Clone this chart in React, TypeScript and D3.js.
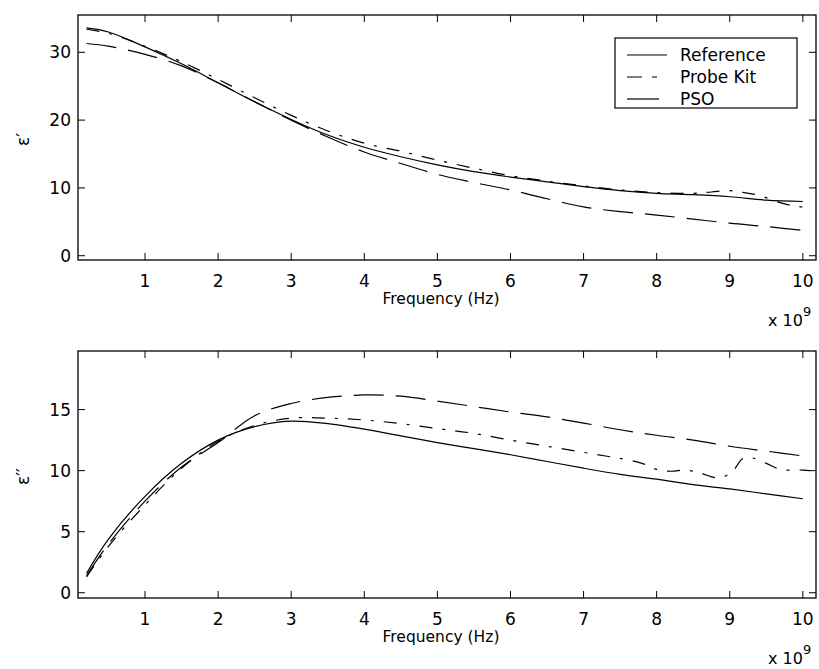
import React from "react";
import * as d3 from "d3";

// ---------- data (frequency in GHz, axis shows x 10^9) ----------
const freq = [0.2, 0.5, 1, 1.5, 2, 2.5, 3, 3.5, 4, 4.5, 5, 5.5, 6, 6.5, 7, 7.5, 8, 8.5, 9, 9.5, 10];

const epsRealReference = [33.6, 33.0, 30.8, 28.3, 25.5, 22.7, 20.1, 17.8, 16.0, 14.6, 13.4, 12.4, 11.6, 10.9, 10.2, 9.6, 9.2, 9.0, 8.7, 8.2, 8.0];
const epsRealPSO = [31.3, 30.9, 29.7, 28.0, 25.5, 22.7, 20.0, 17.5, 15.3, 13.6, 12.0, 10.8, 9.7, 8.4, 7.2, 6.5, 6.0, 5.4, 4.8, 4.3, 3.75];
const freqProbeReal = [0.2, 0.5, 1, 1.5, 2, 2.5, 3, 3.5, 4, 4.5, 5, 5.5, 6, 6.5, 7, 7.5, 8, 8.5, 8.75, 9, 9.2, 9.4, 9.7, 9.9, 10.1];
const epsRealProbe = [33.4, 32.8, 30.9, 28.6, 26.0, 23.3, 20.7, 18.4, 16.6, 15.4, 14.1, 12.9, 11.8, 11.0, 10.3, 9.7, 9.3, 9.2, 9.4, 9.6, 9.3, 8.9, 7.8, 7.3, 7.1];

const epsImagReference = [1.6, 4.4, 7.9, 10.6, 12.5, 13.6, 14.05, 13.85, 13.4, 12.85, 12.3, 11.8, 11.3, 10.75, 10.2, 9.7, 9.3, 8.85, 8.5, 8.1, 7.7];
const epsImagPSO = [1.4, 4.0, 7.5, 10.3, 12.3, 14.5, 15.5, 16.0, 16.2, 16.1, 15.7, 15.25, 14.8, 14.4, 13.9, 13.35, 12.9, 12.5, 12.0, 11.6, 11.2];
const freqProbeImag = [0.2, 0.5, 1, 1.5, 2, 2.5, 3, 3.5, 4, 4.5, 5, 5.5, 6, 6.5, 7, 7.3, 7.5, 7.8, 8, 8.2, 8.4, 8.6, 8.85, 9.03, 9.18, 9.3, 9.5, 9.7, 10, 10.1];
const epsImagProbe = [1.3, 3.8, 7.2, 10.2, 12.4, 13.7, 14.3, 14.3, 14.15, 13.85, 13.45, 13.05, 12.5, 12.0, 11.5, 11.2, 11.0, 10.6, 10.1, 9.95, 10.05, 9.8, 9.4, 9.9, 11.0, 11.05, 10.6, 10.1, 10.05, 10.0];

const xTicks = [1, 2, 3, 4, 5, 6, 7, 8, 9, 10];
const yTicksTop = [0, 10, 20, 30];
const yTicksBottom = [0, 5, 10, 15];
const legendLabels = ["Reference", "Probe Kit", "PSO"];

const FONT = "'DejaVu Sans', 'Liberation Sans', Arial, sans-serif";
const DASH_PROBE = "13,10,3,10";
const DASH_PSO = "30,12";

type Series = { x: number[]; y: number[]; dash?: string };

function Panel({ top, bottom, yDomain, yTicks, series, yLabel, legend }: {
  top: number; bottom: number; yDomain: [number, number]; yTicks: number[];
  series: Series[]; yLabel: string; legend?: boolean;
}) {
  const left = 78, right = 816;
  const x = d3.scaleLinear().domain([0.083, 10.18]).range([left, right]);
  const y = d3.scaleLinear().domain(yDomain).range([bottom, top]);
  const line = d3.line<[number, number]>().x(d => x(d[0])).y(d => y(d[1])).curve(d3.curveCatmullRom.alpha(0.5));
  const tl = 7;
  return (
    <g>
      <defs>
        <clipPath id={`clip${top}`}>
          <rect x={left} y={top} width={right - left} height={bottom - top} />
        </clipPath>
      </defs>
      <g clipPath={`url(#clip${top})`}>
        {series.map((s, i) => (
          <path key={i} d={line(s.x.map((v, j) => [v, s.y[j]] as [number, number])) || ""}
            fill="none" stroke="#000" strokeWidth={1.2} strokeDasharray={s.dash} />
        ))}
      </g>
      <rect x={left} y={top} width={right - left} height={bottom - top} fill="none" stroke="#000" strokeWidth={1.3} />
      {xTicks.map(t => (
        <g key={t}>
          <line x1={x(t)} x2={x(t)} y1={bottom} y2={bottom - tl} stroke="#000" />
          <line x1={x(t)} x2={x(t)} y1={top} y2={top + tl} stroke="#000" />
          <text x={x(t)} y={bottom + 27} textAnchor="middle" fontSize={17} fontFamily={FONT}>{t}</text>
        </g>
      ))}
      {yTicks.map(t => (
        <g key={t}>
          <line x1={left} x2={left + tl} y1={y(t)} y2={y(t)} stroke="#000" />
          <line x1={right} x2={right - tl} y1={y(t)} y2={y(t)} stroke="#000" />
          <text x={left - 7} y={y(t)} dy="0.36em" textAnchor="end" fontSize={17} fontFamily={FONT}>{t}</text>
        </g>
      ))}
      <text x={(left + right) / 2 - 6} y={bottom + 44} textAnchor="middle" fontSize={15.5} fontFamily={FONT}>Frequency (Hz)</text>
      <text x={768} y={bottom + 66} fontSize={16} fontFamily={FONT}>x 10</text>
      <text x={803} y={bottom + 56} fontSize={13} fontFamily={FONT}>9</text>
      <text transform={`translate(29, ${(top + bottom) / 2 + 2}) rotate(-90)`} textAnchor="middle" fontSize={17} fontFamily={FONT}>{yLabel}</text>
      {legend && (
        <g>
          <rect x={615} y={38} width={182} height={70} fill="#fff" stroke="#000" strokeWidth={1.2} />
          {legendLabels.map((lab, i) => (
            <g key={lab}>
              <line x1={627} x2={667} y1={55 + i * 22} y2={55 + i * 22} stroke="#000" strokeWidth={1.2}
                strokeDasharray={i === 1 ? "15,10,5,10" : i === 2 ? "32,12" : undefined} />
              <text x={680} y={55 + i * 22} dy="0.36em" fontSize={17} fontFamily={FONT}>{lab}</text>
            </g>
          ))}
        </g>
      )}
    </g>
  );
}

export default function App() {
  return (
    <svg width={819} height={669} style={{ position: "absolute", left: 0, top: 0, background: "#fff" }}>
      <rect width={819} height={669} fill="#fff" />
      <Panel top={15} bottom={260} yDomain={[-0.63, 35.5]} yTicks={yTicksTop} yLabel="ε′" legend
        series={[
          { x: freq, y: epsRealReference },
          { x: freqProbeReal, y: epsRealProbe, dash: DASH_PROBE },
          { x: freq, y: epsRealPSO, dash: DASH_PSO },
        ]} />
      <Panel top={351} bottom={598} yDomain={[-0.43, 19.8]} yTicks={yTicksBottom} yLabel="ε′′"
        series={[
          { x: freq, y: epsImagReference },
          { x: freqProbeImag, y: epsImagProbe, dash: DASH_PROBE },
          { x: freq, y: epsImagPSO, dash: DASH_PSO },
        ]} />
    </svg>
  );
}
